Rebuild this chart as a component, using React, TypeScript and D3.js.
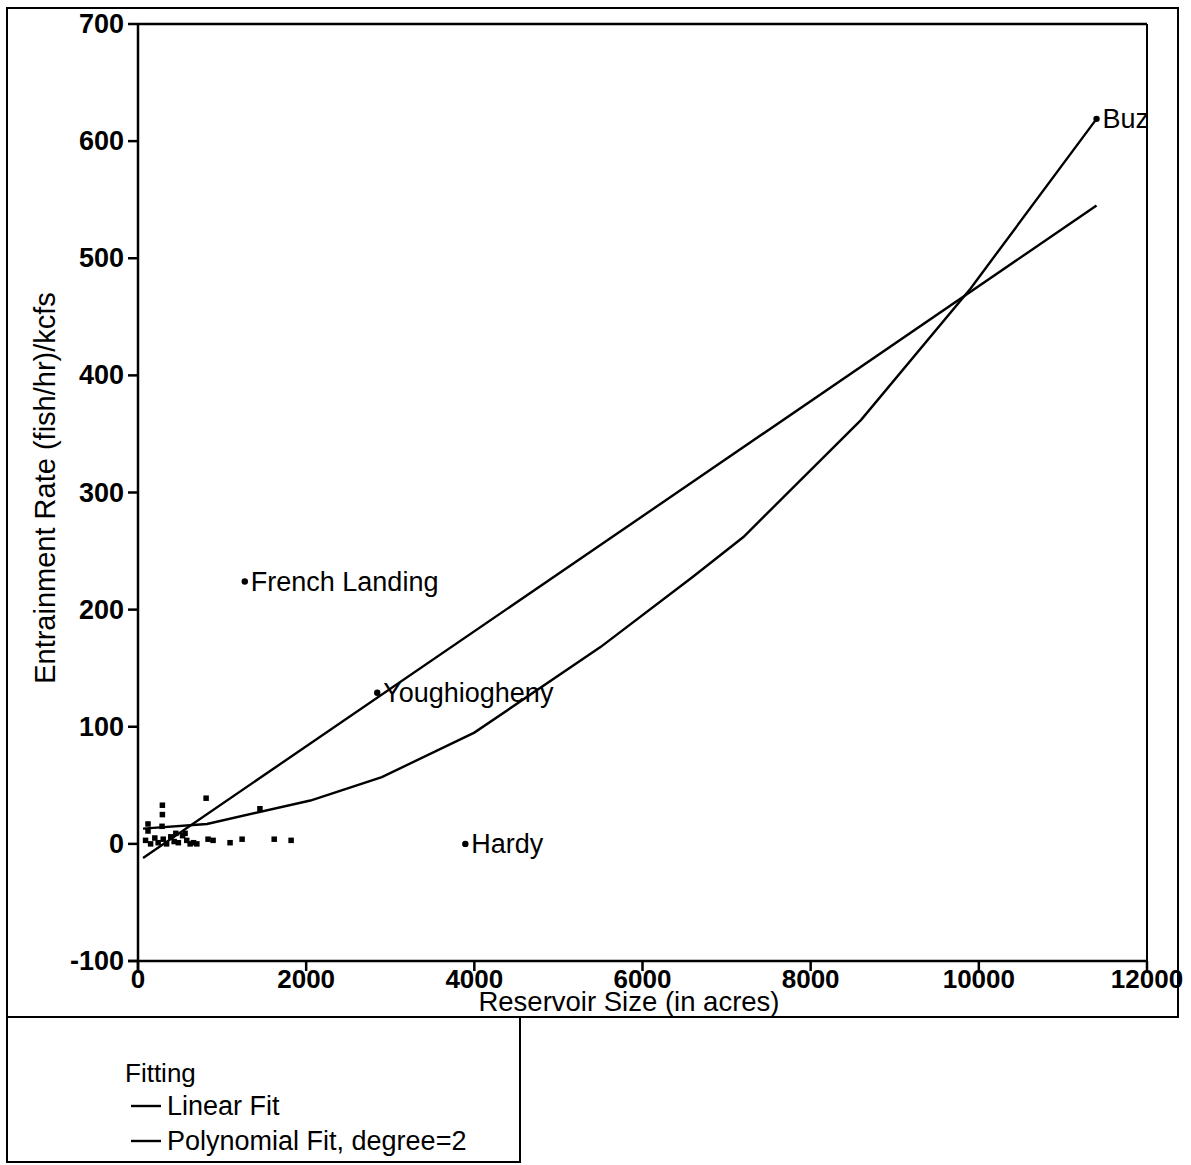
import React from "react";
import * as d3 from "d3";

const W = 1191;
const H = 1165;

// Scatter points (unlabelled)
const ptX = [119, 286, 119, 290, 290, 810, 1450, 833, 893, 1095, 1238, 1620, 1821, 560,
  90, 150, 200, 240, 300, 340, 390, 430, 480, 530, 580, 620, 660, 700, 450];
const ptY = [17, 15, 11, 33, 25, 39, 30, 4, 3, 1, 4, 4, 3, 9,
  3, 0, 5, 1, 4, 0, 6, 2, 1, 7, 3, 0, 1, 0, 9];

// Labelled points
const labNames = ["French Landing", "Youghiogheny", "Hardy", "Buz"];
const labX = [1270, 2845, 3893, 11400];
const labY = [224, 129, 0, 619];

// Fit lines (vertices)
const linX = [60, 11400];
const linY = [-12, 545];
const polyX = [60, 820, 2050, 2900, 4000, 5500, 6600, 7200, 8600, 9900, 11400];
const polyY = [13, 17, 37, 57, 95, 168, 228, 262, 362, 474, 619];

const xTicks = [0, 2000, 4000, 6000, 8000, 10000, 12000];
const yTicks = [-100, 0, 100, 200, 300, 400, 500, 600, 700];

const legendTitle = "Fitting";
const legendItems = ["Linear Fit", "Polynomial Fit, degree=2"];

const FONT = "'Liberation Sans', Arial, Helvetica, sans-serif";

export default function App() {
  const x = d3.scaleLinear().domain([0, 12000]).range([138, 1147]);
  const y = d3.scaleLinear().domain([-100, 700]).range([961, 24]);
  const line = d3
    .line<[number, number]>()
    .x((d) => x(d[0]))
    .y((d) => y(d[1]));
  const lin = linX.map((v, i) => [v, linY[i]] as [number, number]);
  const poly = polyX.map((v, i) => [v, polyY[i]] as [number, number]);

  const left = x(0);
  const right = x(12000);
  const top = y(700);
  const bottom = y(-100);

  return (
    <svg
      width={W}
      height={H}
      style={{ position: "absolute", left: 0, top: 0, background: "#fff" }}
      fontFamily={FONT}
    >
      <rect x={0} y={0} width={W} height={H} fill="#fff" />
      {/* outer frame */}
      <rect x={7} y={8} width={1171} height={1009} fill="none" stroke="#000" strokeWidth={2} />
      {/* legend box */}
      <rect x={7} y={1017} width={513} height={145} fill="none" stroke="#000" strokeWidth={2} />

      {/* plot frame */}
      <line x1={left} y1={top} x2={right} y2={top} stroke="#000" strokeWidth={2.5} />
      <line x1={right} y1={top} x2={right} y2={bottom} stroke="#000" strokeWidth={2} />
      <line x1={left - 10} y1={bottom} x2={right} y2={bottom} stroke="#000" strokeWidth={2.5} />
      <line x1={left} y1={top} x2={left} y2={bottom + 10} stroke="#000" strokeWidth={2.5} />

      {/* y ticks */}
      {yTicks.map((t) => (
        <g key={"y" + t}>
          <line x1={left - 10} x2={left} y1={y(t)} y2={y(t)} stroke="#000" strokeWidth={2.5} />
          <text
            x={left - 14}
            y={y(t)}
            textAnchor="end"
            dominantBaseline="central"
            fontSize={27}
            fontWeight={700}
          >
            {t}
          </text>
        </g>
      ))}
      {/* x ticks */}
      {xTicks.map((t) => (
        <g key={"x" + t}>
          <line x1={x(t)} x2={x(t)} y1={bottom} y2={bottom + 10} stroke="#000" strokeWidth={2.5} />
          <text x={x(t)} y={988} textAnchor="middle" fontSize={26} fontWeight={700}>
            {t}
          </text>
        </g>
      ))}

      {/* axis titles */}
      <text x={629} y={1011} textAnchor="middle" fontSize={27.5}>
        Reservoir Size (in acres)
      </text>
      <text
        transform={`translate(45,488) rotate(-90)`}
        textAnchor="middle"
        dominantBaseline="central"
        fontSize={29}
      >
        Entrainment Rate (fish/hr)/kcfs
      </text>

      {/* fit lines */}
      <path d={line(lin) || ""} fill="none" stroke="#000" strokeWidth={2.4} />
      <path d={line(poly) || ""} fill="none" stroke="#000" strokeWidth={2.4} />

      {/* points */}
      {ptX.map((v, i) => (
        <rect
          key={"p" + i}
          x={x(v) - 2.75}
          y={y(ptY[i]) - 2.75}
          width={5.5}
          height={5.5}
          fill="#000"
        />
      ))}
      {labX.map((v, i) => (
        <g key={"l" + i}>
          <circle cx={x(v)} cy={y(labY[i])} r={3.2} fill="#000" />
          <text
            x={x(v) + 6}
            y={y(labY[i])}
            dominantBaseline="central"
            fontSize={27}
          >
            {labNames[i]}
          </text>
        </g>
      ))}

      {/* legend */}
      <text x={125} y={1082} fontSize={26}>
        {legendTitle}
      </text>
      {legendItems.map((s, i) => (
        <g key={"lg" + i}>
          <line x1={131} x2={161} y1={1106 + i * 35} y2={1106 + i * 35} stroke="#000" strokeWidth={2.4} />
          <text x={167} y={1115 + i * 35} fontSize={27}>
            {s}
          </text>
        </g>
      ))}
    </svg>
  );
}
